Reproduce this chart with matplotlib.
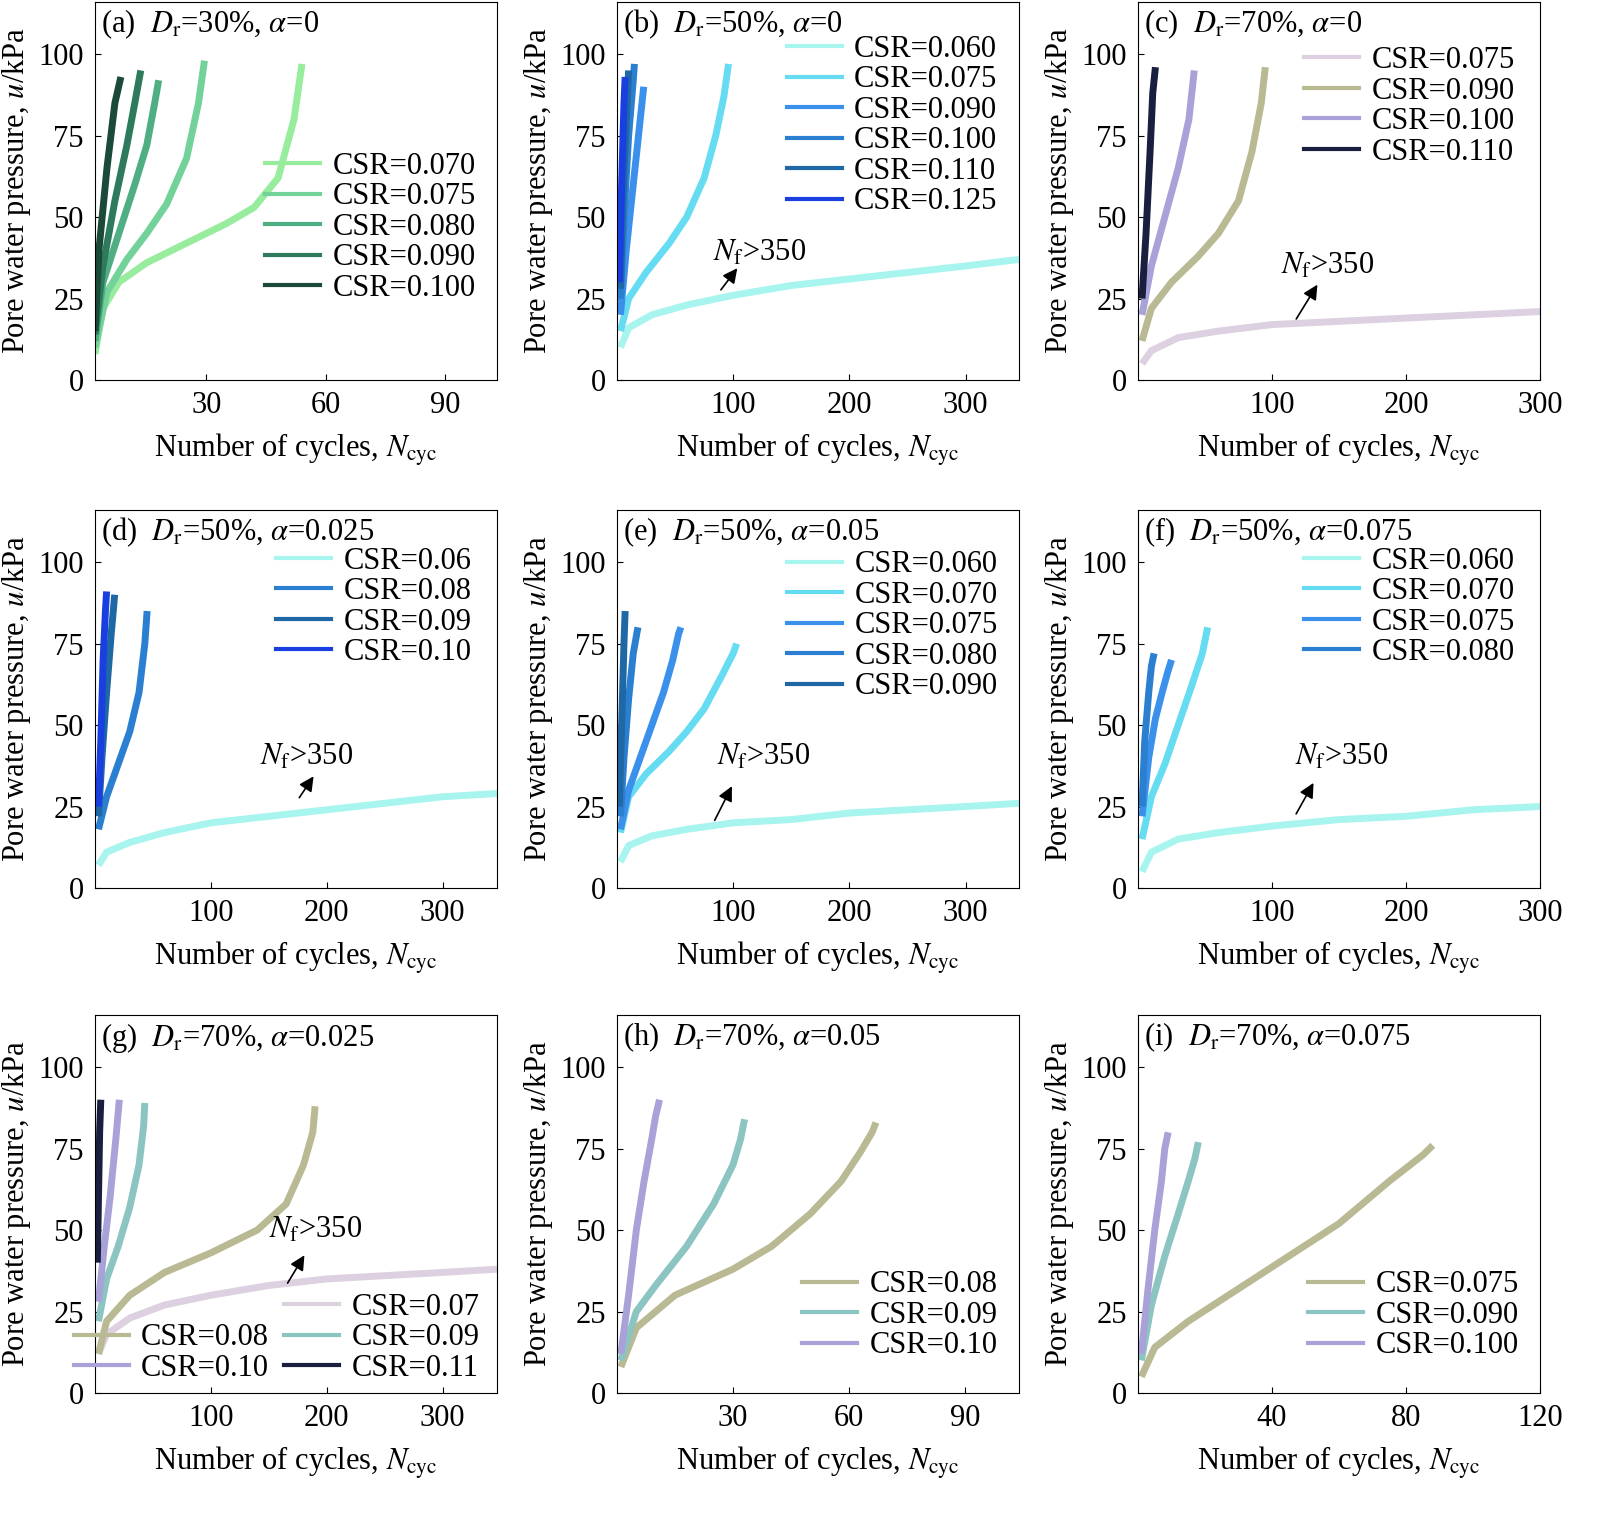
import matplotlib
matplotlib.use("Agg")
import matplotlib.pyplot as plt
from matplotlib.lines import Line2D

plt.rcParams['font.family'] = ['Liberation Serif', 'DejaVu Serif']
plt.rcParams['mathtext.fontset'] = 'stix'
FS = 22
plt.rcParams['font.size'] = FS

# ---- data: (label, N values, u values, colour) per panel ----
titles = ["(a)  $D_{\\rm r}$=30%, $\\alpha$=0", "(b)  $D_{\\rm r}$=50%, $\\alpha$=0", "(c)  $D_{\\rm r}$=70%, $\\alpha$=0",
          "(d)  $D_{\\rm r}$=50%, $\\alpha$=0.025", "(e)  $D_{\\rm r}$=50%, $\\alpha$=0.05", "(f)  $D_{\\rm r}$=50%, $\\alpha$=0.075",
          "(g)  $D_{\\rm r}$=70%, $\\alpha$=0.025", "(h)  $D_{\\rm r}$=70%, $\\alpha$=0.05", "(i)  $D_{\\rm r}$=70%, $\\alpha$=0.075"]

a_labels = ["CSR=0.070", "CSR=0.075", "CSR=0.080", "CSR=0.090", "CSR=0.100"]
a_N = [[2,4,8,15,25,35,42,48,52,54], [2,5,10,15,20,25,28,29.5], [2,4,8,12,15,17,18], [2,4,7,10,12,13.5], [2,3,5,7,8.5]]
a_u = [[8,22,30,36,42,48,53,62,80,97], [10,27,37,45,54,68,85,98], [12,30,45,60,72,85,92], [14,35,55,72,85,95], [15,40,65,85,93]]
a_col = ["#98ec9e", "#72d29a", "#4fae82", "#2d7a5c", "#1b4a38"]

b_labels = ["CSR=0.060", "CSR=0.075", "CSR=0.090", "CSR=0.100", "CSR=0.110", "CSR=0.125"]
b_N = [[3,10,30,60,100,150,200,250,300,346], [3,10,25,45,60,75,85,92,96], [3,8,14,20,23], [3,6,10,14,15], [3,5,8,10], [2,4,6,7]]
b_u = [[10,16,20,23,26,29,31,33,35,37], [15,25,33,42,50,62,75,87,97], [20,40,60,80,90], [25,50,75,92,97], [28,55,80,95], [30,60,85,93]]
b_col = ["#a8f4ee", "#66dcf2", "#3a90ea", "#2a7fd0", "#1f68a6", "#1a3fe0"]

c_labels = ["CSR=0.075", "CSR=0.090", "CSR=0.100", "CSR=0.110"]
c_N = [[3,10,30,60,100,150,200,250,300], [3,10,25,45,60,75,85,92,95], [3,10,20,30,38,42], [3,6,9,11,13]]
c_u = [[5,9,13,15,17,18,19,20,21], [12,22,30,38,45,55,70,85,96], [20,35,50,65,80,95], [25,45,70,88,96]]
c_col = ["#ddd0e0", "#b9b993", "#a9a2d8", "#1a1f40"]

d_labels = ["CSR=0.06", "CSR=0.08", "CSR=0.09", "CSR=0.10"]
d_N = [[3,10,30,60,100,150,200,250,300,347], [3,10,20,30,38,43,45], [3,6,10,14,17], [3,5,7,9,10]]
d_u = [[7,11,14,17,20,22,24,26,28,29], [18,28,38,48,60,75,85], [22,40,60,78,90], [25,45,70,85,91]]
d_col = ["#a8f4ee", "#2a7fd0", "#1f68a6", "#1a3fe0"]

e_labels = ["CSR=0.060", "CSR=0.070", "CSR=0.075", "CSR=0.080", "CSR=0.090"]
e_N = [[3,10,30,60,100,150,200,250,300,346], [3,10,25,45,60,75,90,100,103], [3,10,20,30,40,48,53,55], [3,6,10,14,18], [2,4,6,7]]
e_u = [[8,13,16,18,20,21,23,24,25,26], [17,28,35,42,48,55,65,72,75], [18,30,40,50,60,70,78,80], [22,40,58,72,80], [25,50,75,85]]
e_col = ["#a8f4ee", "#66dcf2", "#3a90ea", "#2a7fd0", "#1f68a6"]

f_labels = ["CSR=0.060", "CSR=0.070", "CSR=0.075", "CSR=0.080"]
f_N = [[3,10,30,60,100,150,200,250,300], [3,10,20,30,40,48,52], [3,8,13,18,22,25], [3,5,8,10,12]]
f_u = [[5,11,15,17,19,21,22,24,25], [15,28,38,50,62,72,80], [22,40,52,60,66,70], [25,45,60,68,72]]
f_col = ["#a8f4ee", "#66dcf2", "#3a90ea", "#2a7fd0"]

g_labels = ["CSR=0.07", "CSR=0.08", "CSR=0.09", "CSR=0.10", "CSR=0.11"]
g_N = [[3,10,30,60,100,150,200,250,300,347], [3,10,30,60,100,140,165,180,188,190], [3,10,20,30,38,42,43], [3,8,13,18,21], [2,3,4,5]]
g_u = [[12,18,23,27,30,33,35,36,37,38], [12,22,30,37,43,50,58,70,80,88], [22,35,45,57,70,82,89], [28,45,60,78,90], [40,60,80,90]]
g_col = ["#ddd0e0", "#b9b993", "#8cc4c2", "#a9a2d8", "#1a1f40"]

h_labels = ["CSR=0.08", "CSR=0.09", "CSR=0.10"]
h_N = [[1,5,15,30,40,50,58,63,66,67], [1,5,10,18,25,30,32,33], [1,3,5,7,9,10,11]]
h_u = [[8,20,30,38,45,55,65,74,80,83], [10,25,33,45,58,70,78,84], [12,30,50,65,78,85,90]]
h_col = ["#b9b993", "#8cc4c2", "#a9a2d8"]

i_labels = ["CSR=0.075", "CSR=0.090", "CSR=0.100"]
i_N = [[1,5,15,30,45,60,75,85,88], [1,4,8,12,15,17,18], [1,3,5,7,8,9]]
i_u = [[5,14,22,32,42,52,65,73,76], [10,27,42,55,65,72,77], [12,32,50,65,75,80]]
i_col = ["#b9b993", "#8cc4c2", "#a9a2d8"]

x_limits = [(2,103), (0,346), (0,300), (0,347), (0,346), (0,300), (0,347), (0,104), (0,118)]
x_ticks = [[30,60,90], [100,200,300], [100,200,300], [100,200,300], [100,200,300], [100,200,300],
           [100,200,300], [30,60,90], [40,80,120]]
# arrows: (tail N, tail u, head N, head u, text N, text u)
arrows = [None, (88,27,105,35,83,39), (117,18,135,30,107,35), (175,27,190,35,142,40),
          (83,20,100,32,86,40), (117,22,132,33,117,40), (165,33,182,43,150,50), None, None]

panels = [(a_labels,a_N,a_u,a_col), (b_labels,b_N,b_u,b_col), (c_labels,c_N,c_u,c_col),
          (d_labels,d_N,d_u,d_col), (e_labels,e_N,e_u,e_col), (f_labels,f_N,f_u,f_col),
          (g_labels,g_N,g_u,g_col), (h_labels,h_N,h_u,h_col), (i_labels,i_N,i_u,i_col)]

leg_loc = [("upper right",(1.0,0.66)), ("upper right",(1.0,0.97)), ("upper right",(0.99,0.94)),
           ("upper right",(0.99,0.96)), ("upper right",(1.0,0.95)), ("upper right",(0.99,0.96)),
           ("lower right",(1.01,-0.03)), ("lower right",(1.0,0.03)), ("lower right",(1.0,0.03))]

W, H = 1600, 1517
fig = plt.figure(figsize=(W/100, H/100), dpi=100)
cols_px = [(95,497), (617,1019), (1138,1540)]
rows_px = [(2,380), (510,888), (1015,1393)]

for k in range(9):
    r, c = divmod(k, 3)
    l, rr = cols_px[c]; t, b = rows_px[r]
    ax = fig.add_axes([l/W, 1-b/H, (rr-l)/W, (b-t)/H])
    labels, Ns, us, cols = panels[k]
    handles = []
    for lab, N, u, col in zip(labels, Ns, us, cols):
        ax.plot(N, u, color=col, lw=5, solid_capstyle='butt')
        handles.append(Line2D([], [], color=col, lw=3, label=lab))
    ax.set_xlim(*x_limits[k]); ax.set_ylim(0, 116)
    ax.set_xticks(x_ticks[k]); ax.set_yticks([0,25,50,75,100])
    ax.tick_params(direction='in', labelsize=FS, length=4, pad=8)
    ax.set_xlabel("Number of cycles, $N_{\\rm cyc}$", fontsize=FS, labelpad=8)
    ax.set_ylabel("Pore water pressure, $u$/kPa", fontsize=FS, labelpad=4)
    ax.text(0.015, 0.985, titles[k], transform=ax.transAxes, va='top', ha='left', fontsize=FS)
    if arrows[k]:
        x0,y0,x1,y1,xt,yt = arrows[k]
        ax.annotate("", xy=(x1,y1), xytext=(x0,y0), arrowprops=dict(arrowstyle='-|>', color='black', lw=1.2))
        ax.text(xt, yt, "$N_{\\rm f}$>350", fontsize=FS, ha='left', va='center')
    loc, bb = leg_loc[k]
    if k == 6:
        blank = Line2D([], [], color='none', label=' ')
        hh = [blank, handles[1], handles[3], handles[0], handles[2], handles[4]]
        ax.legend(handles=hh, loc=loc, bbox_to_anchor=bb, ncol=2, frameon=False, fontsize=FS,
                  handlelength=1.8, labelspacing=0.05, columnspacing=0.5, handletextpad=0.4, borderpad=0.2)
    else:
        ax.legend(handles=handles, loc=loc, bbox_to_anchor=bb, frameon=False, fontsize=FS,
                  handlelength=1.8, labelspacing=0.05, handletextpad=0.4, borderpad=0.2)

fig.savefig("out.png", dpi=100)
